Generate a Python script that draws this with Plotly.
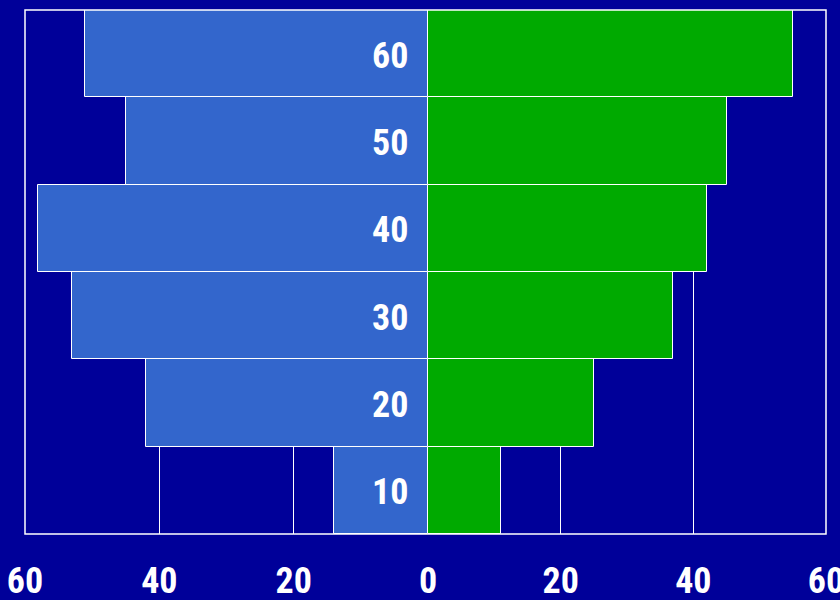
import plotly.graph_objects as go

ages = [10, 20, 30, 40, 50, 60]
left_values = [14, 42, 53, 58, 45, 51]
right_values = [11, 25, 37, 42, 45, 55]
left_ticks = [-60, -40, -20]
left_ticktext = ["60", "40", "20"]
right_ticks = [0, 20, 40, 60]
right_ticktext = ["0", "20", "40", "60"]

BG = "#000099"
FONT = ("Liberation Sans Narrow, Noto Sans ExtraCondensed, Roboto Condensed, "
        "Noto Sans Condensed, DejaVu Sans Condensed, sans-serif")

fig = go.Figure()
fig.add_trace(go.Bar(
    y=ages, x=[-v for v in left_values], orientation="h",
    marker=dict(color="#3366CC", line=dict(color="white", width=1)),
    xaxis="x", yaxis="y", hoverinfo="skip", showlegend=False,
))
fig.add_trace(go.Bar(
    y=ages, x=right_values, orientation="h",
    marker=dict(color="#00AA00", line=dict(color="white", width=1)),
    xaxis="x2", yaxis="y", hoverinfo="skip", showlegend=False,
))

split = 403 / 801
tfont = dict(family=FONT, size=36, color="white", weight="bold")
axis_common = dict(
    showgrid=True, gridcolor="white", gridwidth=1, zeroline=False,
    showline=False, ticks="", ticklabelstandoff=22, automargin=False,
    ticklabeloverflow="allow", tickfont=tfont,
)
fig.update_layout(
    width=840, height=600,
    margin=dict(l=25, r=14, t=10, b=66),
    paper_bgcolor=BG, plot_bgcolor=BG,
    bargap=0, barmode="overlay",
    xaxis=dict(domain=[0, split], range=[-60, 0], tickvals=left_ticks,
               ticktext=left_ticktext, anchor="y", **axis_common),
    xaxis2=dict(domain=[split, 1], range=[0, 60.0001], tickvals=right_ticks,
                ticktext=right_ticktext, anchor="y", **axis_common),
    yaxis=dict(range=[5, 65], showgrid=False, zeroline=False,
               showticklabels=False, showline=False, automargin=False),
)

for a in ages:
    fig.add_annotation(x=0, y=a, xref="x", yref="y", text=str(a),
                       showarrow=False, xanchor="right", xshift=-18, yshift=-2,
                       font=tfont)

fig.add_shape(type="rect", xref="paper", yref="paper", x0=0, x1=1, y0=0, y1=1,
              line=dict(color="white", width=1.5), layer="above")

fig.write_html("out.html")
